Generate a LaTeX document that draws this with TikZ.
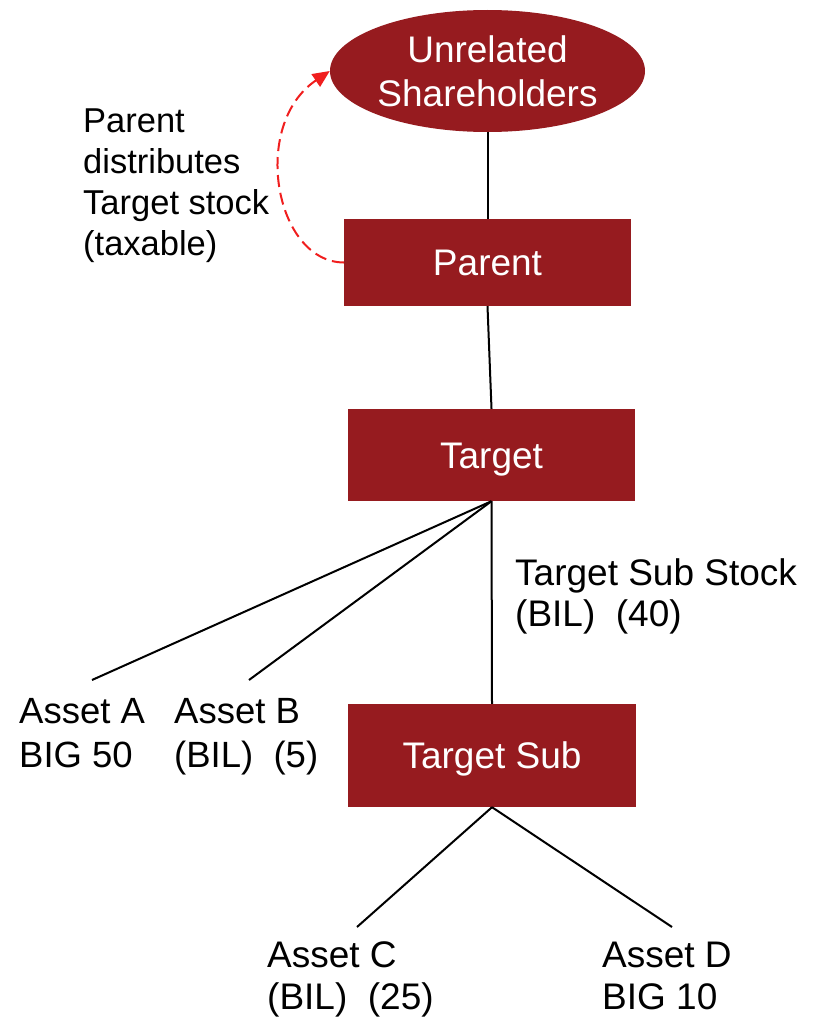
\documentclass[tikz,border=0pt]{standalone}
\usepackage{fontspec}
\setmainfont{Liberation Sans}
\usetikzlibrary{shapes.geometric,arrows.meta}
\definecolor{boxred}{HTML}{961B1F}
\definecolor{arrowred}{HTML}{F01E1E}
\begin{document}
\begin{tikzpicture}[x=1pt,y=-1pt,
  entity/.style={rectangle,fill=boxred,text=white,inner sep=0pt,
    minimum width=287pt,font={\fontsize{37}{44}\selectfont},
    text height=26.5pt,text depth=0pt},
  holders/.style={ellipse,fill=boxred,text=white,inner sep=0pt,
    minimum width=315pt,minimum height=122pt,align=center,
    font={\fontsize{37}{44}\selectfont}},
  note/.style={anchor=north west,inner sep=0pt,align=left,
    font={\fontsize{37}{42}\selectfont}},
  link/.style={draw=black,line width=2pt},
  distrib/.style={draw=arrowred,line width=2pt,dash pattern=on 12pt off 6pt,
    -{Triangle[length=17pt,width=15pt]},arrowred}
]
\useasboundingbox (0,0) rectangle (814,1025);

% entities
\node[holders] (ush) at (487.5,71) {Unrelated\\Shareholders};
\node[entity,minimum height=87pt] (parent) at (487.5,262.5) {Parent};
\node[entity,minimum height=92pt] (target) at (491.5,455) {Target};
\node[entity,minimum width=288pt,minimum height=103pt] (tsub) at (492,755.5) {Target Sub};

% labels
\node[note,font={\fontsize{34.5}{41}\selectfont}] (dist) at (83,108.5)
  {Parent\\distributes\\Target stock\\(taxable)};
\node[note,font={\fontsize{37}{41}\selectfont}] (tss) at (515,558.5)
  {Target Sub Stock\\(BIL)\ \ (40)};
\node[note,font={\fontsize{36.5}{44}\selectfont}] (assetA) at (19,698.5) {Asset A\\BIG 50};
\node[note,font={\fontsize{36.5}{44}\selectfont}] (assetB) at (174,698.5) {Asset B\\(BIL)\ \ (5)};
\node[note] (assetC) at (267,941.5) {Asset C\\(BIL)\ \ (25)};
\node[note] (assetD) at (602,941.5) {Asset D\\BIG 10};

% free ends of the asset branches
\coordinate (aA) at (92,680);
\coordinate (aB) at (249,680);
\coordinate (aC) at (357,927);
\coordinate (aD) at (672,927);

% ownership lines
\draw[link] (ush.south) -- (parent.north);
\draw[link] (parent.south) -- (target.north);
\draw[link] (target.south) -- (aA);
\draw[link] (target.south) -- (aB);
\draw[link] (target.south) -- (tsub.north);
\draw[link] (tsub.south) -- (aC);
\draw[link] (tsub.south) -- (aD);

% distribution of Target stock
\draw[distrib] (parent.west) .. controls (275,262) and (250,125) .. (ush.west);
\end{tikzpicture}
\end{document}
